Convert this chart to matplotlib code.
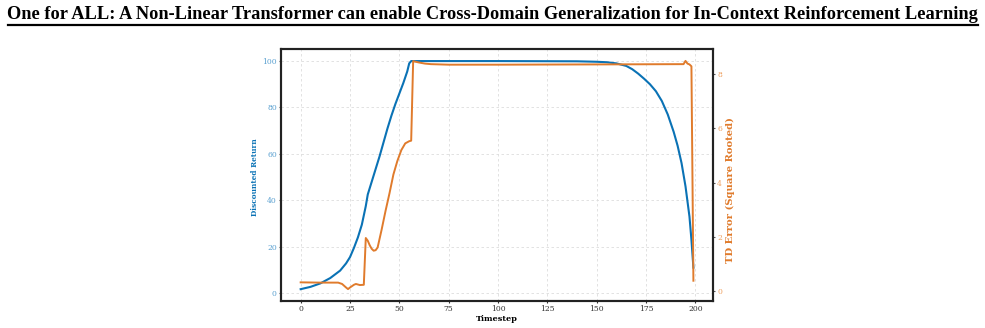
import matplotlib
matplotlib.use("Agg")
import matplotlib.pyplot as plt
from matplotlib.lines import Line2D

# ---------------- data ----------------
title = "One for ALL: A Non-Linear Transformer can enable Cross-Domain Generalization for In-Context Reinforcement Learning"

ret_t = [0, 5, 10, 15, 20, 23, 25, 27, 29, 31, 33, 34, 36, 38, 40, 42, 44, 46, 48, 50, 52, 54, 55, 56,
         100, 140, 150, 155, 160, 165, 168, 171, 174, 177, 180, 183, 186, 189, 191, 193, 195, 197, 198, 199]
ret_v = [1.7, 2.7, 4.2, 6.5, 9.7, 12.8, 15.5, 19.5, 24.0, 29.5, 37.5, 42.5, 48.0, 53.5, 59.0, 65.0, 71.0, 76.5,
         81.5, 86.0, 90.5, 95.5, 99.0, 100.0,
         100.0, 99.9, 99.7, 99.5, 99.0, 97.9, 96.5, 94.6, 92.4, 90.0, 87.0, 82.8, 77.0, 69.5, 63.5, 56.0, 46.0,
         33.0, 23.0, 11.0]

td_t = [0, 10, 19, 21, 23, 24, 25, 27, 28, 30, 32, 33, 34, 35, 36, 37, 38, 39, 41, 43, 45, 47, 49, 51, 53, 55, 56,
        57, 60, 63, 66, 75, 100, 150, 194, 195, 196, 197, 198, 199]
td_v = [0.31, 0.30, 0.30, 0.25, 0.12, 0.06, 0.12, 0.22, 0.25, 0.21, 0.22, 1.95, 1.85, 1.68, 1.55, 1.48, 1.50, 1.60,
        2.25, 2.95, 3.60, 4.30, 4.80, 5.20, 5.45, 5.53, 5.55,
        8.49, 8.44, 8.40, 8.38, 8.36, 8.36, 8.37, 8.38, 8.50, 8.40, 8.37, 8.30, 0.37]

x_ticks = [0, 25, 50, 75, 100, 125, 150, 175, 200]
left_ticks = [0, 20, 40, 60, 80, 100]
right_ticks = [0, 2, 4, 6, 8]

blue = "#0a72b5"
orange = "#e07b2c"
blue_light = "#5aa0d0"
orange_light = "#eea060"

# ---------------- figure ----------------
plt.rcParams['font.family'] = ['DejaVu Serif']
fig = plt.figure(figsize=(9.85, 3.28), dpi=100)
fig.text(0.5, 0.955, title, ha='center', va='center', fontsize=13.27, fontweight='bold',
         family=['Liberation Serif', 'DejaVu Serif'])
fig.add_artist(Line2D([0.008, 0.993], [0.923, 0.923], color='black', lw=1.6, transform=fig.transFigure))

ax = fig.add_axes([0.2853, 0.0823, 0.4386, 0.7683])
ax2 = ax.twinx()

ax.plot(ret_t, ret_v, color=blue, lw=1.5, zorder=3)
ax2.plot(td_t, td_v, color=orange, lw=1.4, zorder=3)

ax.set_xlim(-9.95, 208.95)
ax.set_ylim(-3.4, 105.2)
ax2.set_ylim(-0.38, 8.94)

ax.set_xticks(x_ticks)
ax.set_yticks(left_ticks)
ax2.set_yticks(right_ticks)

ax.grid(True, color='#dddddd', linestyle=(0, (3, 3)), lw=0.6)
ax.set_axisbelow(True)

for a in (ax, ax2):
    for s in a.spines.values():
        s.set_linewidth(1.5)
        s.set_color('#222222')

ax.tick_params(axis='x', labelsize=5.5, length=1.5, width=0.8, colors='#333333', pad=1.5)
ax.tick_params(axis='y', labelsize=5.5, length=1.5, width=0.8, color='#555555', labelcolor=blue_light, pad=1.5)
ax2.tick_params(axis='y', labelsize=5.5, length=1.5, width=0.8, color='#555555', labelcolor=orange_light, pad=1.5)

ax.set_xlabel("Timestep", fontsize=5.9, fontweight='bold', color='black', labelpad=1)
ax.set_ylabel("Discounted Return", fontsize=5.3, fontweight='bold', color=blue)
ax2.set_ylabel("TD Error (Square Rooted)", fontsize=7.2, fontweight='bold', color=orange)
ax.yaxis.set_label_coords(-0.052, 0.49)
ax2.yaxis.set_label_coords(1.029, 0.44)

fig.savefig("out.png", dpi=100)
